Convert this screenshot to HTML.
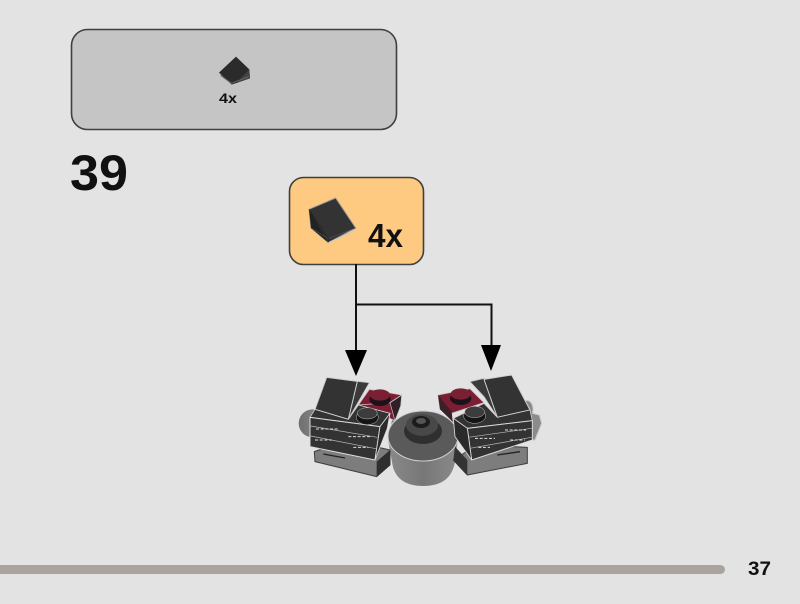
<!DOCTYPE html>
<html>
<head>
<meta charset="utf-8">
<style>
html,body{margin:0;padding:0;background:#e3e3e3;width:800px;height:604px;overflow:hidden}
svg{display:block}
text{font-family:"Liberation Sans",sans-serif;font-weight:bold;fill:#111}
</style>
</head>
<body>
<svg width="800" height="604" viewBox="0 0 800 604" xmlns="http://www.w3.org/2000/svg">
<defs>
<linearGradient id="g1" x1="0" x2="1" y1="0" y2="0"><stop offset="0" stop-color="#6f6f6f"/><stop offset="1" stop-color="#8f8f8f"/></linearGradient>
<linearGradient id="g2" x1="0" x2="1" y1="0" y2="0"><stop offset="0" stop-color="#8a8a8a"/><stop offset=".5" stop-color="#777"/><stop offset="1" stop-color="#8a8a8a"/></linearGradient>
</defs>
<rect width="800" height="604" fill="#e3e3e3"/>

<!-- top box -->
<rect x="71.500" y="29.500" width="325" height="100" rx="16" fill="#c5c5c5" stroke="#3f3f3f" stroke-width="1.600"/>
<g transform="translate(200 50) scale(.3333)">
  <polygon points="57,68 108,20 148,58 150,85 95,104" fill="#2b2b2b"/>
  <polygon points="148,58 150,85 112,96" fill="#444"/>
  <polyline points="62,76 94,100 146,80" fill="none" stroke="#666" stroke-width="3"/>
</g>
<text x="219" y="103" font-size="14" textLength="18" lengthAdjust="spacingAndGlyphs">4x</text>

<!-- step number -->
<text x="70" y="190" font-size="50" textLength="58" lengthAdjust="spacingAndGlyphs">39</text>

<!-- callout -->
<rect x="289.500" y="177.500" width="134" height="87" rx="14" fill="#fec980" stroke="#3f3f3f" stroke-width="1.600"/>
<g transform="translate(285 172) scale(.3333)">
  <polygon points="72,112 152,78 212,168 130,212 78,168" fill="#333" stroke="#9a9a9a" stroke-width="3" stroke-linejoin="round"/>
  <polygon points="72,112 78,168 130,212" fill="#222"/>
  <polyline points="78,168 130,200 212,168" fill="none" stroke="#555" stroke-width="2"/>
  <polyline points="72,112 130,200 130,212" fill="none" stroke="#222" stroke-width="2"/>
  <polyline points="130,212 212,175" fill="none" stroke="#ccc" stroke-width="3"/>
</g>
<text x="368" y="247" font-size="33" textLength="35" lengthAdjust="spacingAndGlyphs">4x</text>

<!-- connectors -->
<path d="M356 264V350M356 304.500H491.500V350" fill="none" stroke="#111" stroke-width="2"/>
<polygon points="345,350 367,350 356,376" fill="#000"/>
<polygon points="481,345 501,345 491,371" fill="#000"/>

<!-- centre hub -->
<path d="M388 440 L392 462 C394 478 405 486 423 486 C442 486 452 478 455 462 L458 438 L455 420 L392 420 Z" fill="url(#g2)"/>
<ellipse cx="423" cy="436" rx="35" ry="25" fill="#5a5a5a" stroke="#cfcfcf" stroke-width="1"/>
<ellipse cx="423" cy="431" rx="19" ry="13" fill="#2f2f2f"/>
<ellipse cx="422" cy="425" rx="16" ry="11" fill="#484848"/>
<ellipse cx="421" cy="422" rx="9" ry="6" fill="#1c1c1c"/>
<ellipse cx="421" cy="421" rx="5" ry="3" fill="#555"/>

<!-- left module -->
<g transform="translate(280 360) scale(.3333)" stroke-linejoin="round">
  <circle cx="98" cy="190" r="42" fill="url(#g1)"/>
  <polygon points="103,275 105,305 290,350 330,315 330,270 200,240" fill="#7d7d7d" stroke="#3d3d3d" stroke-width="3"/>
  <polygon points="290,305 290,350 330,315 330,270" fill="#2f2f2f"/>
  <path d="M130 282 195 294" stroke="#222" stroke-width="4" fill="none"/>
  <polygon points="268,88 365,105 362,138 345,182 235,135" fill="#7d1d34" stroke="#c8c8c8" stroke-width="2.500"/>
  <polygon points="330,128 365,105 362,138 345,182" fill="#2f2025" stroke="#c8c8c8" stroke-width="2"/>
  <polyline points="235,135 330,128 365,105" fill="none" stroke="#c8c8c8" stroke-width="2.500"/>
  <ellipse cx="300" cy="118" rx="32" ry="20" fill="#1c1218"/>
  <ellipse cx="300" cy="105" rx="30" ry="17" fill="#7a2034"/>
  <polygon points="232,64 268,68 205,178" fill="#3a3a3a" stroke="#c8c8c8" stroke-width="2.500"/>
  <polygon points="140,52 232,64 205,178 105,148" fill="#333" stroke="#d0d0d0" stroke-width="3"/>
  <polygon points="90,172 105,148 205,178 235,135 330,160 300,200" fill="#333" stroke="#d0d0d0" stroke-width="2.500"/>
  <polygon points="90,172 300,200 285,300 90,260" fill="#333" stroke="#dcdcdc" stroke-width="3"/>
  <polygon points="300,200 330,160 322,205 285,300" fill="#2a2a2a" stroke="#dcdcdc" stroke-width="2.500"/>
  <path d="M92 198 292 232M92 228 288 266" stroke="#bbb" stroke-width="2" fill="none"/>
  <path d="M108 207H175M205 230H270M105 240H160M220 262H265" stroke="#ddd" stroke-width="3" stroke-dasharray="9 5" fill="none"/>
  <ellipse cx="262" cy="172" rx="33" ry="22" fill="#151515" stroke="#bbb" stroke-width="1.500"/>
  <ellipse cx="262" cy="160" rx="30" ry="17" fill="#3c3c3c" stroke="#bbb" stroke-width="1.500"/>
</g>

<!-- right module -->
<g transform="translate(410 360) scale(.3333)" stroke-linejoin="round">
  <path d="M345 122 C366 118 372 140 368 160 L388 165 L395 190 L375 240 L350 240 Z" fill="#8b8b8b" stroke="#ccc" stroke-width="3"/>
  <polygon points="130,300 172,345 352,310 352,262 200,255" fill="#7d7d7d" stroke="#3d3d3d" stroke-width="3"/>
  <polygon points="130,300 172,345 172,300 135,260" fill="#333"/>
  <path d="M262 285 330 275" stroke="#222" stroke-width="4" fill="none"/>
  <polygon points="84,105 180,86 222,128 125,160 90,148" fill="#7d1d34" stroke="#c8c8c8" stroke-width="2.500"/>
  <polygon points="84,105 90,148 128,185 125,155" fill="#3a2028"/>
  <ellipse cx="152" cy="115" rx="32" ry="20" fill="#1c1218"/>
  <ellipse cx="152" cy="102" rx="30" ry="17" fill="#7a2034"/>
  <polygon points="180,65 222,55 262,172 222,110" fill="#3a3a3a" stroke="#c8c8c8" stroke-width="2.500"/>
  <polygon points="222,58 305,45 360,150 262,172" fill="#333" stroke="#d0d0d0" stroke-width="3"/>
  <polygon points="130,175 222,130 262,172 360,150 367,182 172,205" fill="#333" stroke="#d0d0d0" stroke-width="2.500"/>
  <polygon points="172,205 367,182 367,240 185,300" fill="#333" stroke="#dcdcdc" stroke-width="3"/>
  <polygon points="130,175 172,205 185,300 135,230" fill="#2a2a2a" stroke="#dcdcdc" stroke-width="2.500"/>
  <path d="M175 232 365 205M180 265 365 232" stroke="#bbb" stroke-width="2" fill="none"/>
  <path d="M195 235H255M285 210H348M205 262H240M300 240H345" stroke="#ddd" stroke-width="3" stroke-dasharray="9 5" fill="none"/>
  <ellipse cx="194" cy="168" rx="33" ry="22" fill="#151515" stroke="#bbb" stroke-width="1.500"/>
  <ellipse cx="194" cy="156" rx="30" ry="17" fill="#3c3c3c" stroke="#bbb" stroke-width="1.500"/>
</g>

<!-- footer -->
<rect x="-10" y="565" width="735" height="9" rx="4.500" fill="#a9a49e"/>
<text x="748" y="575" font-size="19.500" textLength="23" lengthAdjust="spacingAndGlyphs">37</text>
</svg>
</body>
</html>
